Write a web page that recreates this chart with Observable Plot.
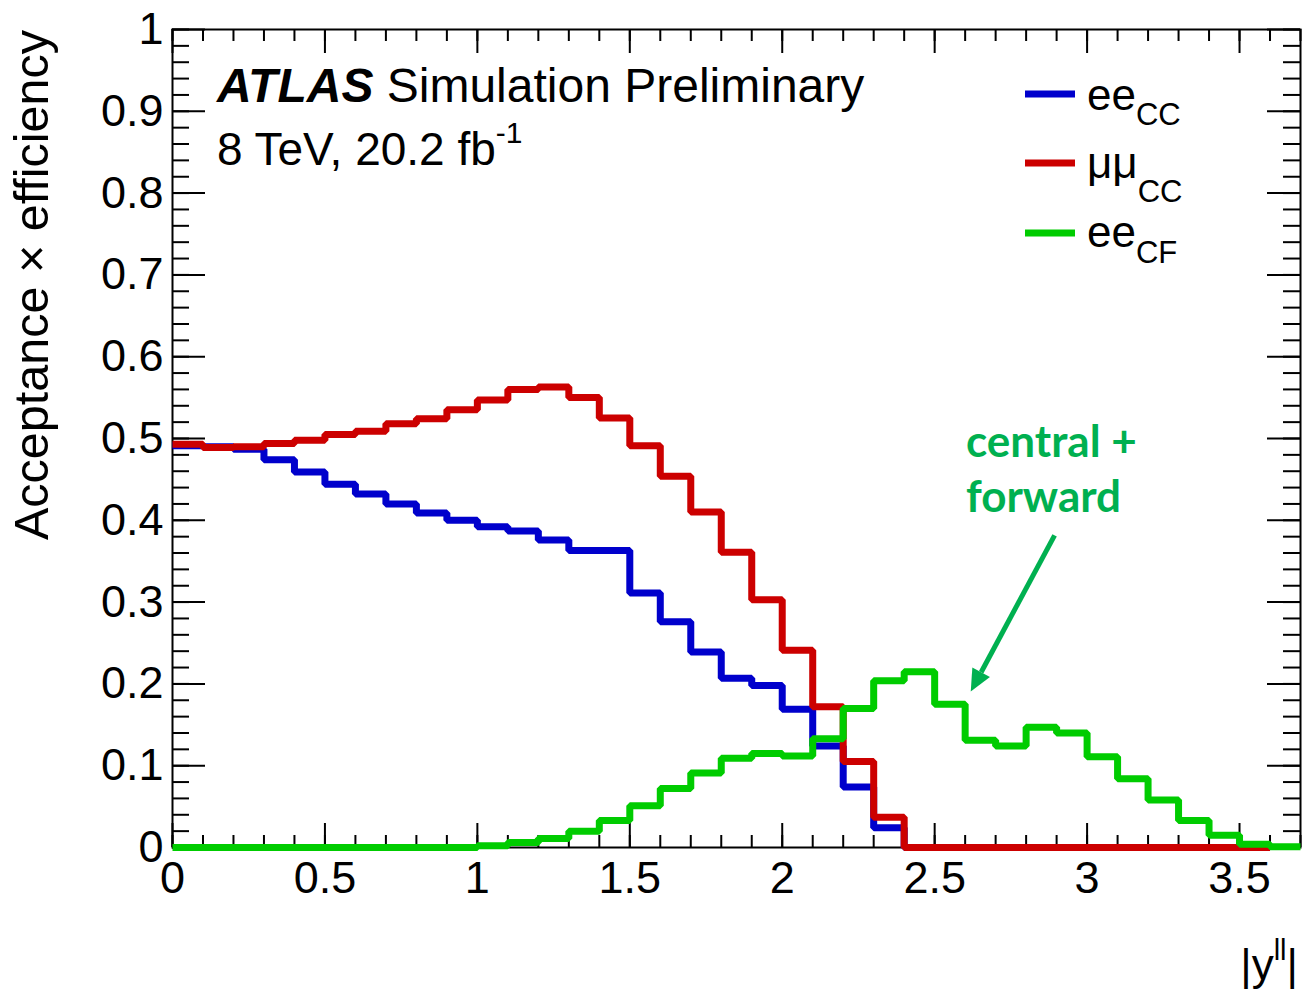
<!DOCTYPE html>
<html><head><meta charset="utf-8">
<script src="https://cdn.jsdelivr.net/npm/d3@7"></script>
<script src="https://cdn.jsdelivr.net/npm/@observablehq/plot@0.6"></script>
<style>
html,body{margin:0;padding:0;background:#fff;}
#chart svg{display:block;}
</style></head><body><div id="chart"></div>
<script>
// ---- data ----
const binWidth = 0.1;
const eeCC = [0.491, 0.490, 0.487, 0.474, 0.459, 0.444, 0.432, 0.420, 0.409, 0.400,
  0.392, 0.387, 0.376, 0.363, 0.363, 0.311, 0.276, 0.239, 0.207, 0.198,
  0.169, 0.124, 0.074, 0.024, 0, 0, 0, 0, 0, 0, 0, 0, 0, 0, 0, 0];
const mumuCC = [0.493, 0.489, 0.490, 0.494, 0.498, 0.505, 0.509, 0.518, 0.524, 0.535,
  0.547, 0.560, 0.563, 0.550, 0.525, 0.491, 0.454, 0.410, 0.361, 0.303,
  0.241, 0.172, 0.105, 0.037, 0, 0, 0, 0, 0, 0, 0, 0, 0, 0, 0, 0];
const eeCF = [0, 0, 0, 0, 0, 0, 0, 0, 0, 0,
  0.002, 0.006, 0.011, 0.020, 0.033, 0.051, 0.072, 0.091, 0.109, 0.115,
  0.112, 0.133, 0.170, 0.204, 0.215, 0.175, 0.131, 0.124, 0.147, 0.140,
  0.111, 0.084, 0.058, 0.033, 0.015, 0.004, 0.001];
const seriesKeys = ["eeCC", "mumuCC", "eeCF"];
const seriesColors = ["#0000cc", "#cc0000", "#00cc00"];
const legendMain = ["ee", "μμ", "ee"];
const legendSub = ["CC", "CC", "CF"];
const xTickLabels = [0, 0.5, 1, 1.5, 2, 2.5, 3, 3.5];
const yTickLabels = [0, 0.1, 0.2, 0.3, 0.4, 0.5, 0.6, 0.7, 0.8, 0.9, 1];
const xMinorTicks = d3.range(0, 38).map(i => +(i * 0.1).toFixed(2));
const yMinorTicks = d3.range(0, 51).map(i => +(i * 0.02).toFixed(2));

function steps(values, key) {
  const pts = values.map((v, i) => ({x: i * binWidth, y: v, key}));
  pts.push({x: values.length * binWidth, y: values[values.length - 1], key});
  return pts;
}
const hist = {eeCC: steps(eeCC, "eeCC"), mumuCC: steps(mumuCC, "mumuCC"), eeCF: steps(eeCF, "eeCF")};

// ---- layout ----
const W = 1303, H = 992;
const mL = 172, mR = 3, mT = 29, mB = 145;
const innerW = W - mL - mR, innerH = H - mT - mB;
const font = "'Liberation Sans', Arial, Helvetica, sans-serif";
const tk = {stroke: "black", strokeWidth: 2};

const plot = Plot.plot({
  width: W, height: H,
  marginLeft: mL, marginRight: mR, marginTop: mT, marginBottom: mB,
  x: {domain: [0, 3.7], label: null},
  y: {domain: [0, 1], label: null},
  style: {fontFamily: font, fontSize: "45px", color: "black", background: "white"},
  marks: [
    // inward ticks on all four sides
    Plot.tickX(xMinorTicks, {x: d => d, ...tk, insetTop: innerH - 12}),
    Plot.tickX(xMinorTicks, {x: d => d, ...tk, insetBottom: innerH - 12}),
    Plot.tickX(xTickLabels, {x: d => d, ...tk, insetTop: innerH - 24}),
    Plot.tickX(xTickLabels, {x: d => d, ...tk, insetBottom: innerH - 24}),
    Plot.tickY(yMinorTicks, {y: d => d, ...tk, insetRight: innerW - 17}),
    Plot.tickY(yMinorTicks, {y: d => d, ...tk, insetLeft: innerW - 17}),
    Plot.tickY(yTickLabels, {y: d => d, ...tk, insetRight: innerW - 33}),
    Plot.tickY(yTickLabels, {y: d => d, ...tk, insetLeft: innerW - 33}),
    Plot.frame({stroke: "black", strokeWidth: 2}),
    Plot.axisX(xTickLabels, {anchor: "bottom", label: null, tickSize: 0, tickPadding: 14, fontSize: 45, fontFamily: font, tickFormat: d => String(d)}),
    Plot.axisY(yTickLabels, {anchor: "left", label: null, tickSize: 0, tickPadding: 9, fontSize: 45, fontFamily: font, tickFormat: d => String(d)}),
    // histograms
    ...seriesKeys.map((k, i) => Plot.line(hist[k], {
      x: "x", y: "y", curve: "step-after",
      stroke: seriesColors[i], strokeWidth: 7,
      strokeLinejoin: "miter", strokeLinecap: "butt"
    }))
  ]
});
document.getElementById("chart").appendChild(plot);

// ---- annotations ----
const svg = d3.select(plot);
const xs = plot.scale("x"), ys = plot.scale("y");
const g = svg.append("g").attr("font-family", font).attr("fill", "black")
  .attr("text-anchor", "start");

// y title
g.append("text")
  .attr("transform", `translate(48,${mT + 1}) rotate(-90)`)
  .attr("text-anchor", "end").attr("font-size", 48.5)
  .text("Acceptance × efficiency");

// x title
const xt = g.append("text").attr("x", W - 5).attr("y", 980)
  .attr("text-anchor", "end").attr("font-size", 44);
xt.append("tspan").text("|y");
xt.append("tspan").attr("font-size", 29).attr("dy", -20).text("ll");
xt.append("tspan").attr("dy", 20).text("|");

// ATLAS label
const at = g.append("text").attr("x", 217).attr("y", 102).attr("font-size", 48);
at.append("tspan").attr("font-weight", "bold").attr("font-style", "italic").text("ATLAS");
at.append("tspan").text(" Simulation Preliminary");
const lum = g.append("text").attr("x", 217).attr("y", 165).attr("font-size", 46);
lum.append("tspan").text("8 TeV, 20.2 fb");
lum.append("tspan").attr("font-size", 30).attr("dy", -22).text("-1");

// legend
const legY = [94, 163, 233];
const legBase = [110, 178, 247];
const subDy = [15, 24, 16];
seriesKeys.forEach((k, i) => {
  g.append("line").attr("x1", 1025).attr("x2", 1075).attr("y1", legY[i]).attr("y2", legY[i])
    .attr("stroke", seriesColors[i]).attr("stroke-width", 7);
  const t = g.append("text").attr("x", 1087).attr("y", legBase[i]).attr("font-size", 44);
  t.append("tspan").text(legendMain[i]);
  t.append("tspan").attr("font-size", 31).attr("dy", subDy[i]).text(legendSub[i]);
});

// green annotation
const green = "#00b050";
const ann = g.append("g").attr("font-family", "Lato, 'Open Sans', sans-serif")
  .attr("font-weight", "bold").attr("font-size", 44).attr("fill", green);
ann.append("text").attr("x", 966).attr("y", 457).text("central +");
ann.append("text").attr("x", 966).attr("y", 512).text("forward");

// arrow pointing at the forward bump
const arrowFrom = [2.895, 0.381], arrowTo = [2.62, 0.190];
const x1 = xs.apply(arrowFrom[0]), y1 = ys.apply(arrowFrom[1]);
const x2 = xs.apply(arrowTo[0]), y2 = ys.apply(arrowTo[1]);
const ang = Math.atan2(y2 - y1, x2 - x1);
const hl = 22, hw = 10;
const bx = x2 - hl * Math.cos(ang), by = y2 - hl * Math.sin(ang);
g.append("line").attr("x1", x1).attr("y1", y1).attr("x2", bx).attr("y2", by)
  .attr("stroke", green).attr("stroke-width", 5);
g.append("path").attr("fill", green)
  .attr("d", `M${x2},${y2}L${bx + hw * Math.sin(ang)},${by - hw * Math.cos(ang)}L${bx - hw * Math.sin(ang)},${by + hw * Math.cos(ang)}Z`);
</script></body></html>
